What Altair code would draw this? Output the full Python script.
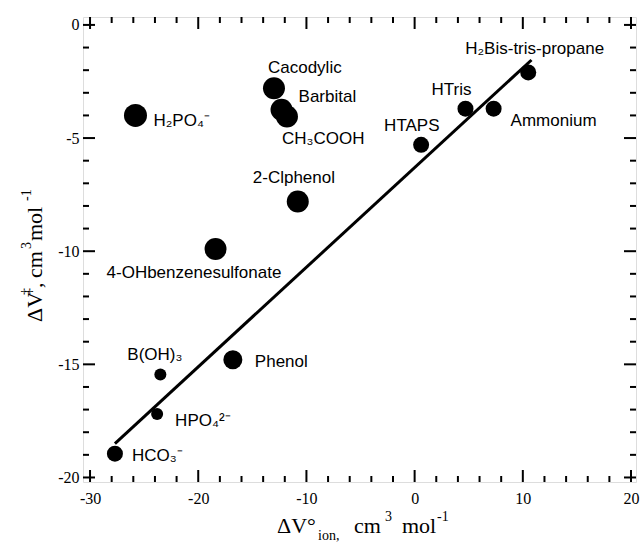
import altair as alt
import pandas as pd

# ---------------- data ----------------
labels = ["H₂Bis-tris-propane", "HTris", "Ammonium", "HTAPS", "Cacodylic", "Barbital",
          "CH₃COOH", "2-Clphenol", "4-OHbenzenesulfonate", "H₂PO₄⁻", "Phenol",
          "B(OH)₃", "HPO₄²⁻", "HCO₃⁻"]
dv_ion = [10.5, 4.7, 7.3, 0.6, -13.0, -12.3, -11.8, -10.8, -18.4, -25.8, -16.8, -23.5, -23.8, -27.7]
dv_act = [-2.1, -3.7, -3.7, -5.3, -2.8, -3.75, -4.05, -7.8, -9.9, -4.0, -14.8, -15.45, -17.2, -18.95]

fit_x = [-27.7, 10.8]
fit_y = [-18.5, -1.55]

x_major = [-30, -20, -10, 0, 10, 20]
x_minor = [-28, -26, -24, -22, -18, -16, -14, -12, -8, -6, -4, -2, 2, 4, 6, 8, 12, 14, 16, 18]
y_major = [0, -5, -10, -15, -20]
y_minor = [-1, -2, -3, -4, -6, -7, -8, -9, -11, -12, -13, -14, -16, -17, -18, -19]

# ---------------- styles ----------------
W, H = 553, 465
X_DOM = [-30.65, 20.46]
Y_DOM = [-20.2, 0.35]
SERIF = "Liberation Serif"
SANS = "Liberation Sans"

marker_diam = {  # pixel diameter of each marker
    "H₂Bis-tris-propane": 16, "HTris": 16, "Ammonium": 16, "HTAPS": 16,
    "Cacodylic": 22, "Barbital": 22, "CH₃COOH": 22, "2-Clphenol": 22,
    "4-OHbenzenesulfonate": 22, "H₂PO₄⁻": 23, "Phenol": 19,
    "B(OH)₃": 12, "HPO₄²⁻": 12, "HCO₃⁻": 16,
}
label_off = {  # (dx, dy) of label start/baseline from the point centre
    "H₂Bis-tris-propane": (-63, -18), "HTris": (-34, -14), "Ammonium": (17, 17),
    "HTAPS": (-37, -14), "Cacodylic": (-6, -15), "Barbital": (17, -8),
    "CH₃COOH": (-5, 27), "2-Clphenol": (-45, -18), "4-OHbenzenesulfonate": (-109, 29),
    "H₂PO₄⁻": (18, 11), "Phenol": (22, 7), "B(OH)₃": (-33, -15),
    "HPO₄²⁻": (18, 12), "HCO₃⁻": (17, 7),
}

df = pd.DataFrame({"label": labels, "x": dv_ion, "y": dv_act})
df["size"] = [marker_diam[l] ** 2 for l in labels]

xs = alt.Scale(domain=X_DOM, nice=False, zero=False)
ys = alt.Scale(domain=Y_DOM, nice=False, zero=False)

x_axis = alt.Axis(values=x_major, title=None, ticks=False, tickSize=0, domain=False, grid=False,
                  labelFont=SERIF, labelFontSize=16, labelColor="black", labelPadding=8,
                  labelExpr="'' + datum.value", labelFlush=False, labelOverlap=False)
y_axis = alt.Axis(values=y_major, title=None, ticks=False, tickSize=0, domain=False, grid=False,
                  labelFont=SERIF, labelFontSize=16, labelColor="black", labelPadding=4,
                  labelExpr="'' + datum.value", labelFlush=False, labelOverlap=False)

X = lambda f: alt.X(f, scale=xs, axis=x_axis)
Y = lambda f: alt.Y(f, scale=ys, axis=y_axis)

points = alt.Chart(df).mark_circle(color="black", opacity=1).encode(
    x=X("x:Q"), y=Y("y:Q"),
    size=alt.Size("size:Q", scale=None, legend=None),
)

fit = alt.Chart(pd.DataFrame({"x": fit_x, "y": fit_y})).mark_line(color="black", strokeWidth=3).encode(
    x=X("x:Q"), y=Y("y:Q"))

layers = [fit, points]

for lab in labels:
    dx, dy = label_off[lab]
    layers.append(
        alt.Chart(df).transform_filter(alt.datum.label == lab).mark_text(
            align="left", baseline="alphabetic", dx=dx, dy=dy, font=SANS, fontSize=17, color="black"
        ).encode(x=X("x:Q"), y=Y("y:Q"), text="label:N")
    )

# inward ticks on all four sides
def xticks(vals, ln):
    d = pd.DataFrame({"tv": vals})
    b = alt.Chart(d).mark_rule(color="black", strokeWidth=2).encode(
        x=X("tv:Q"), y=alt.value(H), y2=alt.value(H - ln))
    t = alt.Chart(d).mark_rule(color="black", strokeWidth=2).encode(
        x=X("tv:Q"), y=alt.value(0), y2=alt.value(ln))
    return [b, t]

def yticks(vals, ln):
    d = pd.DataFrame({"tv": vals})
    l = alt.Chart(d).mark_rule(color="black", strokeWidth=2).encode(
        y=Y("tv:Q"), x=alt.value(0), x2=alt.value(ln))
    r = alt.Chart(d).mark_rule(color="black", strokeWidth=2).encode(
        y=Y("tv:Q"), x=alt.value(W), x2=alt.value(W - ln))
    return [l, r]

layers += xticks(x_major, 12) + xticks(x_minor, 6) + yticks(y_major, 12) + yticks(y_minor, 6)

# composite axis titles (plot-relative pixel positions)
def piece(txt, x, y, size, angle=0):
    return alt.Chart(pd.DataFrame({"t": [txt]})).mark_text(
        align="left", baseline="alphabetic", font=SERIF, fontSize=size, color="black", angle=angle
    ).encode(text="t:N", x=alt.value(x), y=alt.value(y))

OX, OY = 83, 17
xt = [("ΔV°", 277, 533, 22), ("ion,", 318, 540, 14), ("cm", 354, 533, 22),
      ("3", 385, 521, 14), ("mol", 402, 533, 22), ("-1", 437, 521, 14)]
for t, x, y, s in xt:
    layers.append(piece(t, x - OX, y - OY, s))

yt = [("ΔV", 42, 322, 22), ("‡", 31, 295, 14), (",", 42, 288, 22), ("cm", 42, 278, 22),
      ("3", 31, 249, 14), ("mol", 42, 241, 22), ("-1", 31, 201, 14)]
for t, x, y, s in yt:
    layers.append(piece(t, x - OX, y - OY, s, angle=270))

chart = alt.layer(*layers).properties(
    width=W, height=H,
    autosize=alt.AutoSizeParams(type="none"),
    padding={"left": OX, "top": OY, "right": 5, "bottom": 60},
).configure_view(stroke="black", strokeWidth=2).configure(background="white")

chart.save("out.html", embed_options={"renderer": "svg", "actions": False})
